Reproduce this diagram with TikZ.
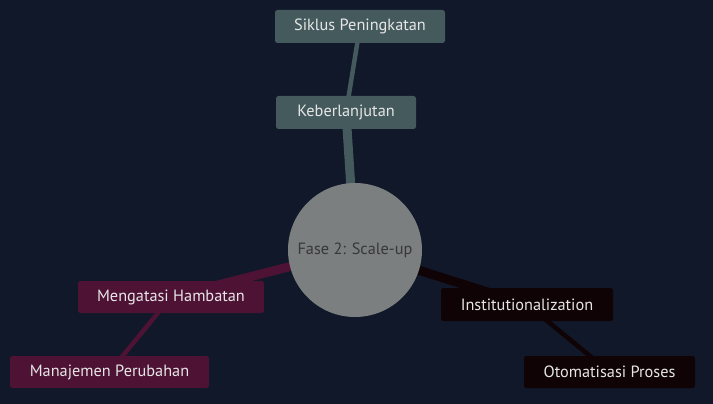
\documentclass[tikz,border=0pt]{standalone}
\usepackage{fontspec}
\setmainfont{PT Sans}
\definecolor{bg}{HTML}{101829}
\definecolor{teal}{HTML}{455A5D}
\definecolor{maroon}{HTML}{4E1235}
\definecolor{blk}{HTML}{0F0306}
\definecolor{rootc}{HTML}{7B7F80}
\definecolor{txt}{HTML}{E6E6E6}
\definecolor{roottxt}{HTML}{383838}
\begin{document}
\begin{tikzpicture}[x=1pt,y=-1pt,
  box/.style={rectangle,rounded corners=2.5pt,inner sep=0pt,text=txt,font=\fontsize{16.3}{19}\selectfont},
  thick edge/.style={line width=9pt},
  thin edge/.style={line width=4.5pt}]
\fill[bg] (0,0) rectangle (713,404);
\useasboundingbox (0,0) rectangle (713,404);
% node positions
\coordinate (root) at (355,250);
\coordinate (kb) at (346,112.5);
\coordinate (sp) at (360,26.5);
\coordinate (mh) at (171,297);
\coordinate (mp) at (109.5,372);
\coordinate (in) at (527,304.5);
\coordinate (op) at (609.5,372);
% edges
\draw[teal,thick edge] (root) -- (kb);
\draw[teal,thin edge] (kb) -- (sp);
\draw[maroon,thick edge] (root) -- (mh);
\draw[maroon,thin edge] (mh) -- (mp);
\draw[blk,thick edge] (root) -- (in);
\draw[blk,thin edge] (in) -- (op);
% nodes
\node[circle,fill=rootc,minimum size=134pt,inner sep=0pt,text=roottxt,font=\fontsize{16.3}{19}\selectfont] (rootn) at (root) {Fase 2: Scale-up};
\node[box,fill=teal,minimum width=170pt,minimum height=33pt] (spn) at (sp) {Siklus Peningkatan};
\node[box,fill=teal,minimum width=140pt,minimum height=33pt] (kbn) at (kb) {Keberlanjutan};
\node[box,fill=maroon,minimum width=186pt,minimum height=32pt] (mhn) at (mh) {Mengatasi Hambatan};
\node[box,fill=maroon,minimum width=199pt,minimum height=32pt] (mpn) at (mp) {Manajemen Perubahan};
\node[box,fill=blk,minimum width=172pt,minimum height=33pt] (inn) at (in) {Institutionalization};
\node[box,fill=blk,minimum width=171pt,minimum height=32pt] (opn) at (op) {Otomatisasi Proses};
\end{tikzpicture}
\end{document}
